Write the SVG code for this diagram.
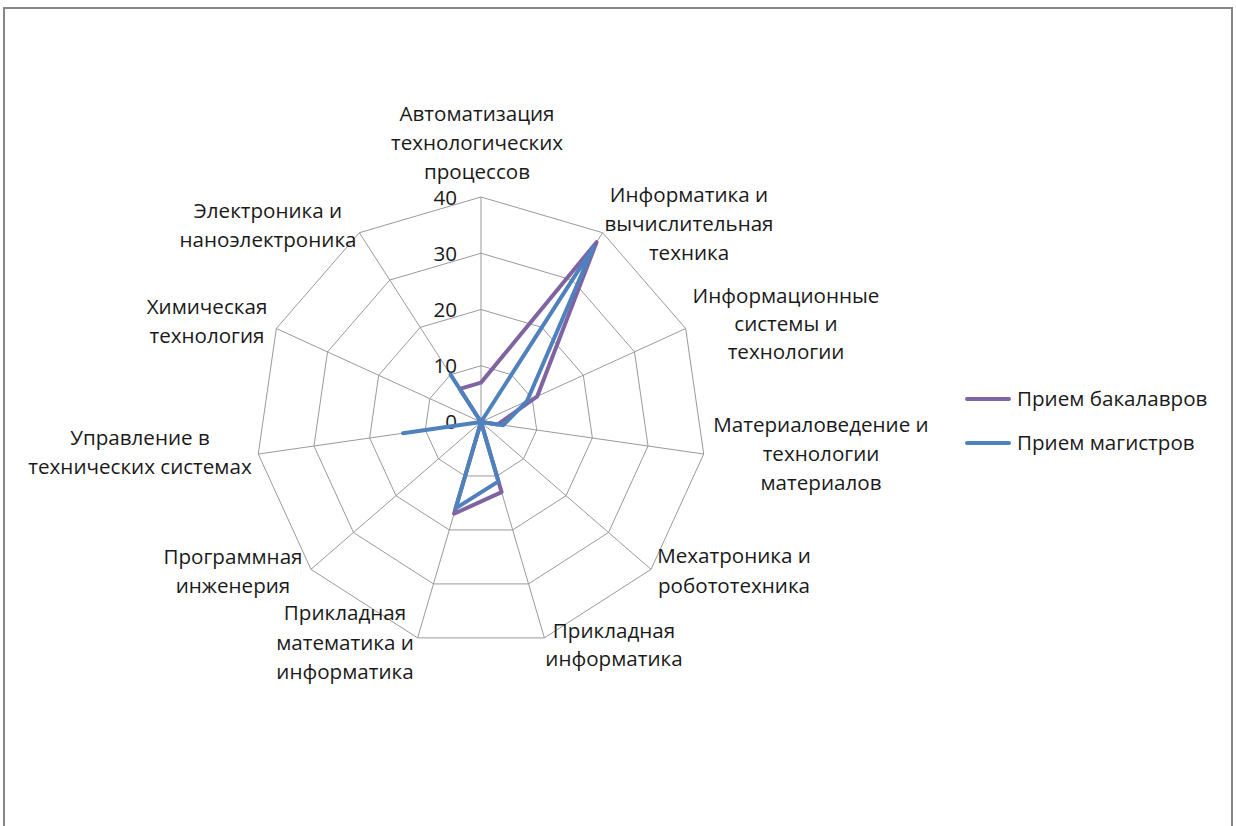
<svg xmlns="http://www.w3.org/2000/svg" width="1236" height="826" viewBox="0 0 1236 826">
<style>
text{font-family:"Open Sans","Liberation Sans",sans-serif;font-size:20.6px;fill:#1a1a1a}
.c{text-anchor:middle}
.r{text-anchor:end}
.grid{fill:none;stroke:#9a9a9a;stroke-width:1}
.s1{fill:none;stroke:#8064A2;stroke-width:4;stroke-linejoin:round;stroke-linecap:round}
.s2{fill:none;stroke:#4F81BD;stroke-width:4;stroke-linejoin:round;stroke-linecap:round}
</style>
<rect x="0" y="0" width="1236" height="826" fill="#fff"/>
<rect x="4" y="8" width="1228" height="840" fill="#fff" stroke="#868686" stroke-width="2"/>
<g id="grid">
<polygon class="grid" points="481,197 602.64,232.72 685.67,328.53 703.71,454.02 651.04,569.34 544.39,637.89 417.61,637.89 310.96,569.34 258.29,454.02 276.33,328.53 359.36,232.72"/>
<polygon class="grid" points="481,253.25 572.23,280.04 634.5,351.9 648.03,446.01 608.53,532.51 528.54,583.91 433.46,583.91 353.47,532.51 313.97,446.01 327.5,351.9 389.77,280.04"/>
<polygon class="grid" points="481,309.5 541.82,327.36 583.33,375.27 592.35,438.01 566.02,495.67 512.69,529.94 449.31,529.94 395.98,495.67 369.65,438.01 378.67,375.27 420.18,327.36"/>
<polygon class="grid" points="481,365.75 511.41,374.68 532.17,398.63 536.68,430 523.51,458.84 496.85,475.97 465.15,475.97 438.49,458.84 425.32,430 429.83,398.63 450.59,374.68"/>
<path class="grid" d="M481,422L481,197M481,422L602.64,232.72M481,422L685.67,328.53M481,422L703.71,454.02M481,422L651.04,569.34M481,422L544.39,637.89M481,422L417.61,637.89M481,422L310.96,569.34M481,422L258.29,454.02M481,422L276.33,328.53M481,422L359.36,232.72"/>
</g>
<g id="ticks">
<text class="r" x="457" y="205">40</text>
<text class="r" x="457" y="261">30</text>
<text class="r" x="457" y="317">20</text>
<text class="r" x="457" y="373">10</text>
<text class="r" x="457" y="429">0</text>
</g>
<g id="connectors">
<polygon id="bachelors" class="s1" points="481,382.63 596.56,242.18 537.28,396.3 497.7,424.4 481,422 501.6,492.16 454.06,513.75 481,422 481,422 481,422 459.71,388.88"/>
<polygon id="masters" class="s2" points="481,422 593.52,246.91 527.05,400.97 503.27,425.2 481,422 498.43,481.37 455.64,508.35 481,422 403.05,433.21 481,422 450.59,374.68"/>
</g>
<g id="label-0"><text class="c" x="477" y="121">Автоматизация</text><text class="c" x="477" y="150">технологических</text><text class="c" x="477" y="179">процессов</text></g>
<g id="label-1"><text class="c" x="689" y="202">Информатика и</text><text class="c" x="689" y="231">вычислительная</text><text class="c" x="689" y="260">техника</text></g>
<g id="label-2"><text class="c" x="786" y="303">Информационные</text><text class="c" x="786" y="331">системы и</text><text class="c" x="786" y="359">технологии</text></g>
<g id="label-3"><text class="c" x="821" y="432">Материаловедение и</text><text class="c" x="821" y="461">технологии</text><text class="c" x="821" y="490">материалов</text></g>
<g id="label-4"><text class="c" x="734" y="563">Мехатроника и</text><text class="c" x="734" y="593">робототехника</text></g>
<g id="label-5"><text class="c" x="614" y="638">Прикладная</text><text class="c" x="614" y="666">информатика</text></g>
<g id="label-6"><text class="c" x="345" y="620">Прикладная</text><text class="c" x="345" y="650">математика и</text><text class="c" x="345" y="679">информатика</text></g>
<g id="label-7"><text class="c" x="233" y="564">Программная</text><text class="c" x="233" y="593">инженерия</text></g>
<g id="label-8"><text class="c" x="140" y="445">Управление в</text><text class="c" x="140" y="474">технических системах</text></g>
<g id="label-9"><text class="c" x="207" y="314">Химическая</text><text class="c" x="207" y="343">технология</text></g>
<g id="label-10"><text class="c" x="268" y="218">Электроника и</text><text class="c" x="268" y="247">наноэлектроника</text></g>
<g id="legend">
<line class="s1" x1="967" y1="399" x2="1009" y2="399"/>
<text x="1017" y="406">Прием бакалавров</text>
<line class="s2" x1="967" y1="443" x2="1009" y2="443"/>
<text x="1017" y="450">Прием магистров</text>
</g>
</svg>
